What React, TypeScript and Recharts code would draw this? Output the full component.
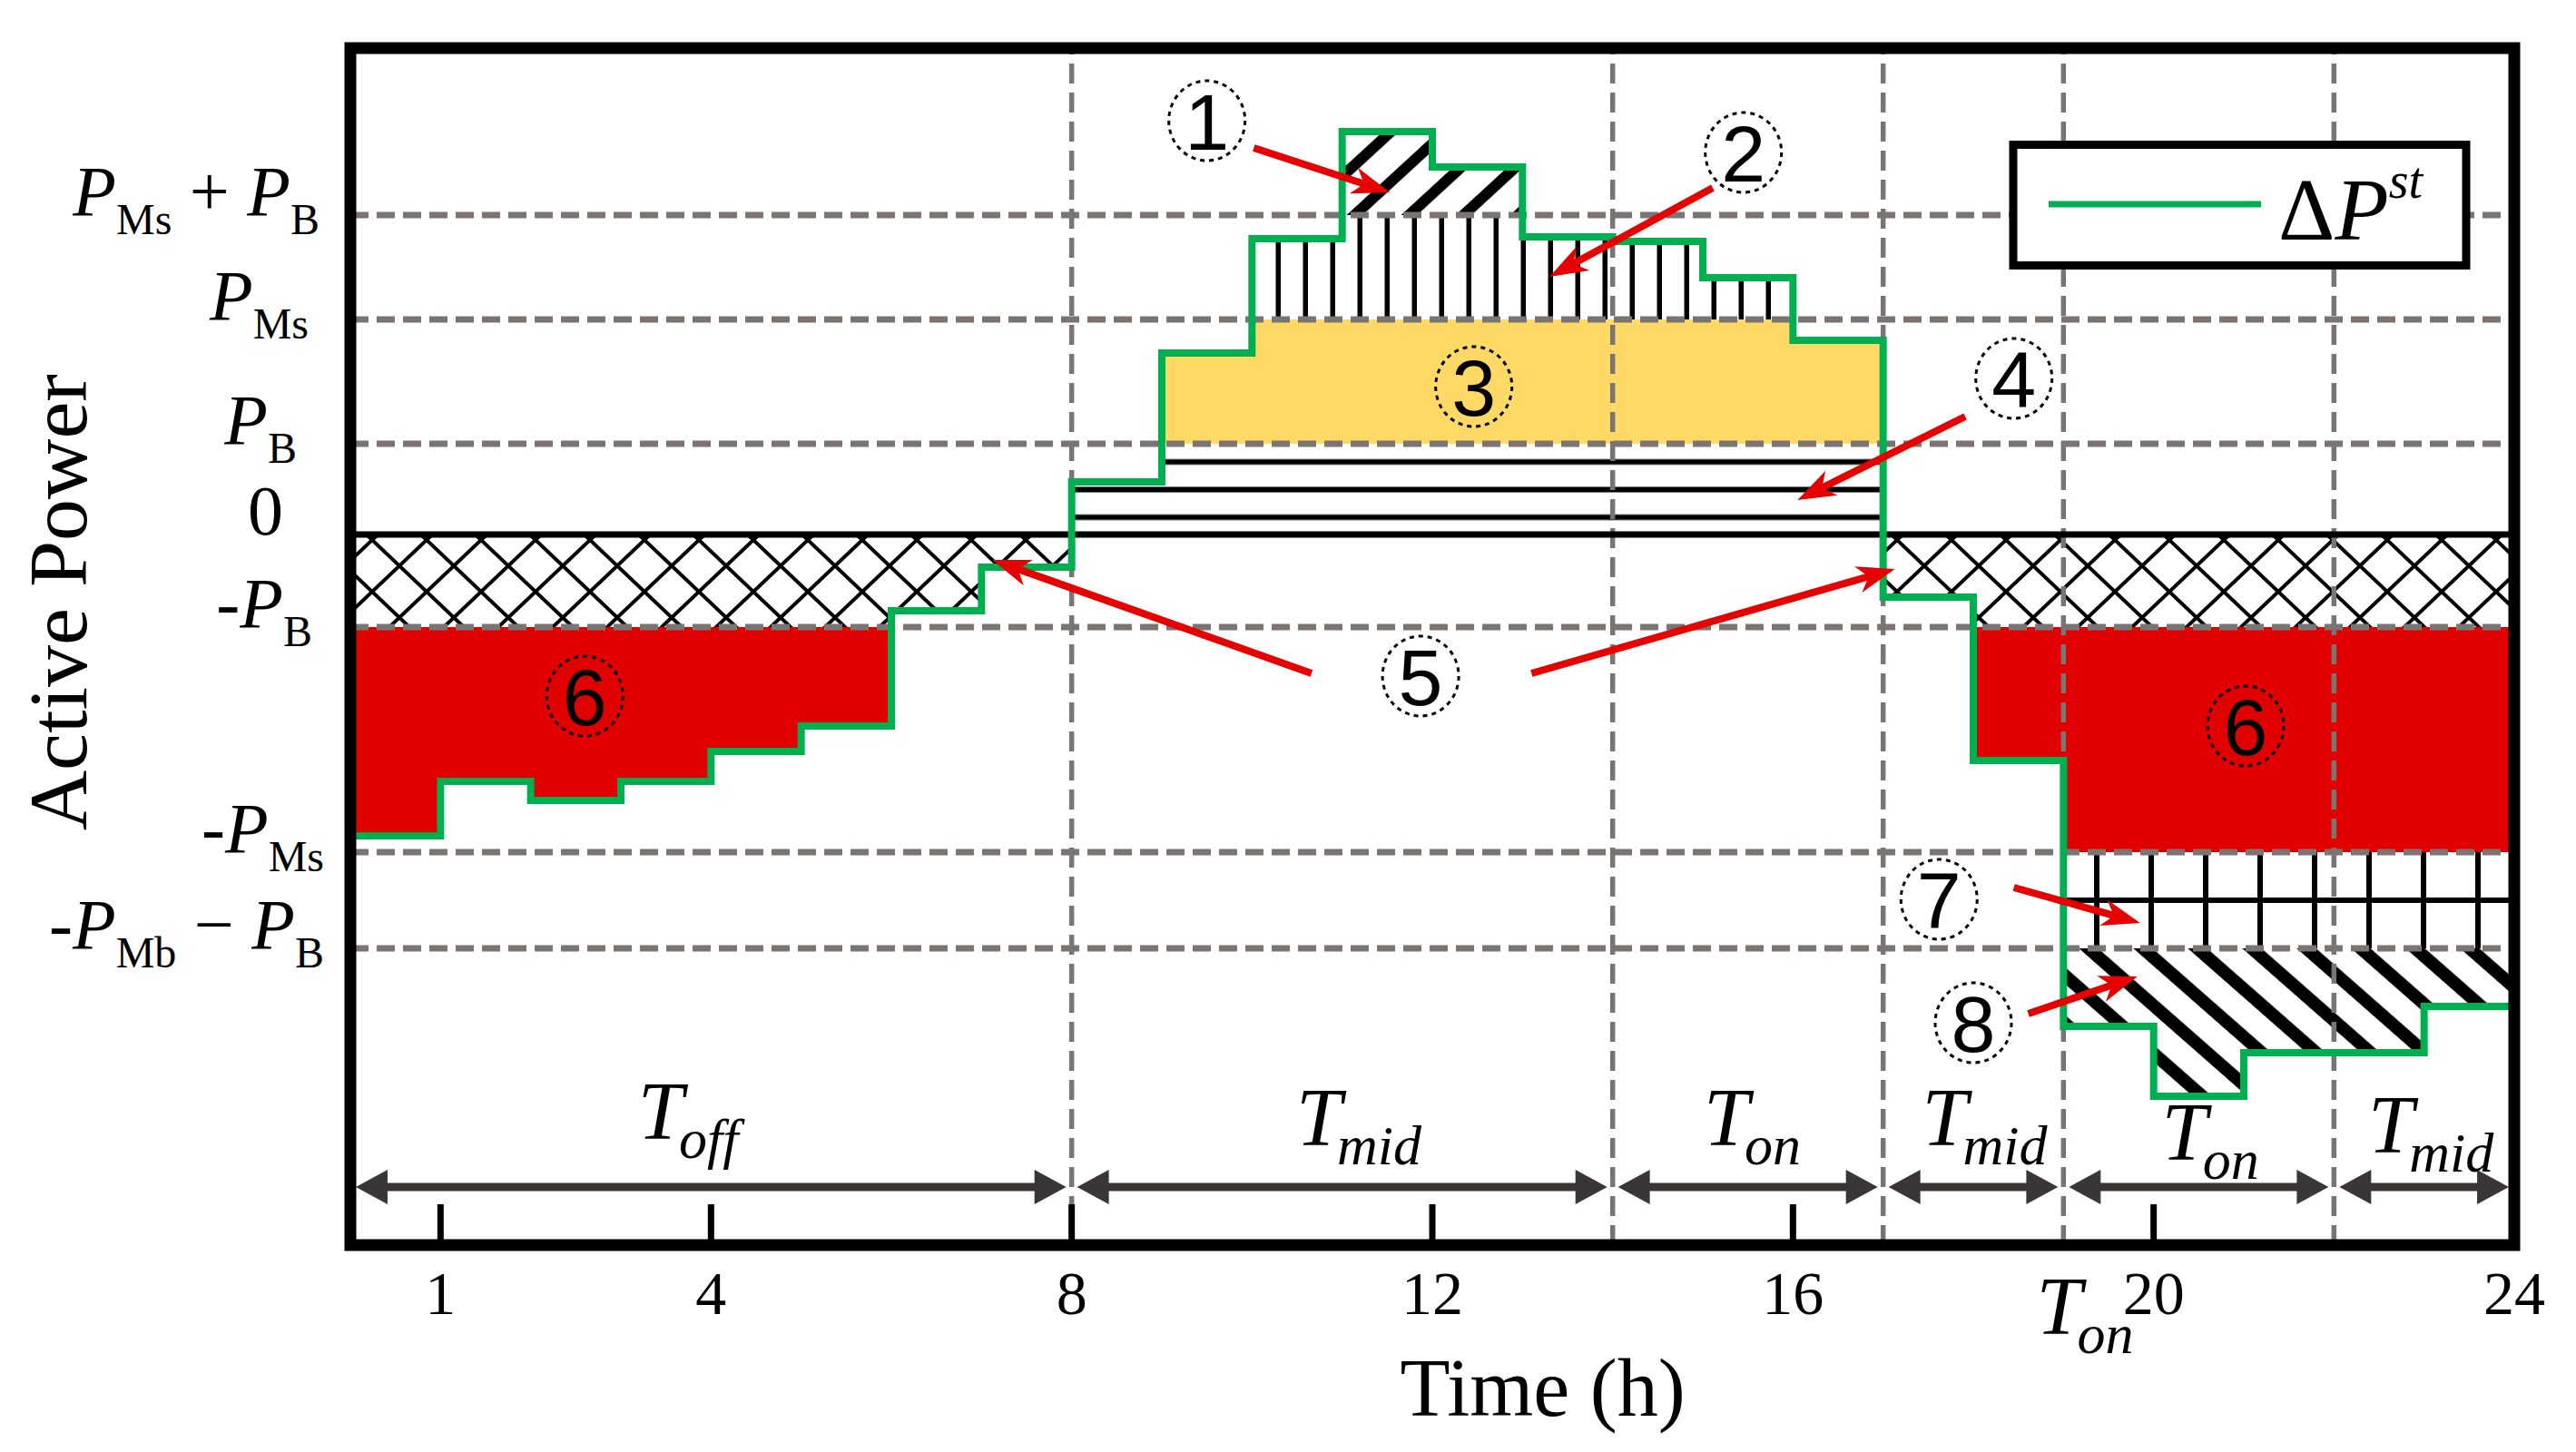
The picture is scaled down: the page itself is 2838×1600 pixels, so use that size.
import React from 'react'
import {
  ComposedChart, Area, Line, XAxis, YAxis, Label, Legend,
  ReferenceLine, ReferenceDot, ReferenceArea,
} from 'recharts'

// ΔP^st step curve: value of hour h holds on [h, h+1)
const hours = [0, 1, 2, 3, 4, 5, 6, 7, 8, 9, 10, 11, 12, 13, 14, 15, 16, 17, 18, 19, 20, 21, 22, 23, 24]
const deltaP = [-3.32, -2.72, -2.93, -2.72, -2.39, -2.11, -0.84, -0.36, 0.58, 2.0, 3.26, 4.44,
  4.05, 3.28, 3.23, 2.83, 2.14, -0.69, -2.49, -5.42, -6.19, -5.71, -5.71, -5.2]

const xTicks = [1, 4, 8, 12, 16, 20, 24]

// power levels shown on the y axis (top to bottom)
const yLevels = [3.52, 2.37, 1.0, 0, -1.02, -3.5, -4.56]
const yTickLabels = [
  [['P', 'it'], ['Ms', 'sub'], ['\u00a0+\u00a0', ''], ['P', 'it'], ['B', 'sub']],
  [['P', 'it'], ['Ms', 'sub']],
  [['P', 'it'], ['B', 'sub']],
  [['0', '']],
  [['-', ''], ['P', 'it'], ['B', 'sub']],
  [['-', ''], ['P', 'it'], ['Ms', 'sub']],
  [['-', ''], ['P', 'it'], ['Mb', 'sub'], ['\u00a0\u2212\u00a0', ''], ['P', 'it'], ['B', 'sub']],
]
const [P_MS_PB, P_MS, P_B, , N_P_B, N_P_MS, N_P_MB_PB] = yLevels

// tariff periods
const periodNames = ['off', 'mid', 'on', 'mid', 'on', 'mid']
const periodStart = [0, 8, 14, 17, 19, 22]
const periodEnd = [8, 14, 17, 19, 22, 24]

// annotation anchors (hour, power)
const periodLabelAt = [[3.19, -6.66], [10.49, -6.73], [15.01, -6.73], [17.43, -6.73], [20.09, -6.89], [22.38, -6.81]]
const extraLabelAt = [18.7, -8.81]
const markerText = ['1', '2', '3', '4', '5', '6', '6', '7', '8']
const markerAt = [[9.5, 4.56], [15.45, 4.21], [12.46, 1.63], [18.45, 1.72], [11.87, -1.56],
  [2.6, -1.78], [21.02, -2.11], [17.62, -4.02], [18.0, -5.38]]
const arrowFrom = [[10.02, 4.26], [15.11, 3.82], [17.91, 1.3], [10.66, -1.53], [13.1, -1.53], [18.45, -3.89], [18.61, -5.28]]
const arrowTo = [[11.53, 3.77], [13.3, 2.84], [16.05, 0.38], [7.12, -0.28], [17.13, -0.38], [19.85, -4.28], [19.82, -4.87]]

const Y_MIN = -7.83
const Y_MAX = 5.36
const ARROW_Y = -7.19

const GRID = '#7a7473'
const GREEN = '#00b050'
const RED_FILL = '#e00000'
const RED_ARROW = '#e60000'
const SERIF = '"Liberation Serif", "Times New Roman", serif'
const SANS = '"Liberation Sans", Arial, sans-serif'

const clamp = (v: number, lo: number, hi: number) => Math.min(Math.max(v, lo), hi)

const rows = hours.map((h, i) => {
  const g = deltaP[Math.min(i, deltaP.length - 1)]
  return {
    hour: h,
    g,
    lines4: [0, clamp(g, 0, P_B)],
    yellow3: [P_B, clamp(g, P_B, P_MS)],
    vert2: [P_MS, clamp(g, P_MS, P_MS_PB)],
    diag1: [P_MS_PB, Math.max(g, P_MS_PB)],
    cross5: [clamp(g, N_P_B, 0), 0],
    red6: [clamp(g, N_P_MS, N_P_B), N_P_B],
    grid7: [clamp(g, N_P_MB_PB, N_P_MS), N_P_MS],
    diag8: [Math.min(g, N_P_MB_PB), N_P_MB_PB],
  }
})

function YTick(props: any) {
  const { x, y, payload } = props
  const idx = yLevels.indexOf(payload.value)
  const parts = yTickLabels[idx] || []
  const shiftX = [0, -12, -25, -40, -8, 5, 5][idx] || 0
  const isZero = payload.value === 0
  let shift = 0
  return (
    <text x={x - 34 + shiftX} y={y} textAnchor={isZero ? 'end' : 'end'} fontFamily={SERIF} fill="#000">
      {parts.map(([t, kind], i) => {
        const target = kind === 'sub' ? 21 : 0
        const dy = target - shift
        shift = target
        return (
          <tspan key={i} dy={dy} fontStyle={kind === 'it' ? 'italic' : 'normal'} fontSize={kind === 'sub' ? 48 : 78}>
            {t}
          </tspan>
        )
      })}
    </text>
  )
}

function XTick(props: any) {
  const { x, y, payload } = props
  return (
    <g>
      <line x1={x} x2={x} y1={y} y2={y - 45} stroke="#000" strokeWidth={7} />
      <text x={x} y={y + 76} textAnchor="middle" fontSize={68} fontFamily={SERIF} fill="#000">
        {payload.value}
      </text>
    </g>
  )
}

function DoubleArrow(p: any) {
  const { x1, y1, x2, y2 } = p
  const L = 35
  const W = 19
  const c = '#3a3636'
  return (
    <g>
      <line x1={x1 + L - 2} y1={y1} x2={x2 - L + 2} y2={y2} stroke={c} strokeWidth={9} />
      <polygon points={`${x1},${y1} ${x1 + L},${y1 - W} ${x1 + L},${y1 + W}`} fill={c} />
      <polygon points={`${x2},${y2} ${x2 - L},${y2 - W} ${x2 - L},${y2 + W}`} fill={c} />
    </g>
  )
}

function RedArrow(p: any) {
  const { x1, y1, x2, y2 } = p
  const dx = x2 - x1
  const dy = y2 - y1
  const len = Math.hypot(dx, dy) || 1
  const ux = dx / len
  const uy = dy / len
  const nx = -uy
  const ny = ux
  const L = 42
  const W = 15
  const N = 30
  const bx = x2 - ux * L
  const by = y2 - uy * L
  const pts = [
    [x2, y2],
    [bx + nx * W, by + ny * W],
    [x2 - ux * N, y2 - uy * N],
    [bx - nx * W, by - ny * W],
  ].map((q) => q.join(',')).join(' ')
  return (
    <g>
      <line x1={x1} y1={y1} x2={x2 - ux * (N - 2)} y2={y2 - uy * (N - 2)} stroke={RED_ARROW} strokeWidth={8} />
      <polygon points={pts} fill={RED_ARROW} />
    </g>
  )
}

function circled(text: string) {
  return (p: any) => (
    <g>
      <ellipse cx={p.cx} cy={p.cy} rx={42} ry={44} fill="none" stroke="#000" strokeWidth={3} strokeDasharray="5 5" />
      <text x={p.cx} y={p.cy + 32} textAnchor="middle" fontSize={88} fontFamily={SANS} fill="#000">
        {text}
      </text>
    </g>
  )
}

function periodLabel(name: string) {
  return (p: any) => (
    <text x={p.cx} y={p.cy} fontFamily={SERIF} fill="#000">
      <tspan fontStyle="italic" fontSize={90}>T</tspan>
      <tspan fontStyle="italic" fontSize={62} dx={-5} dy={21}>{name}</tspan>
    </text>
  )
}

function LegendBox() {
  return (
    <svg width={509} height={142} style={{ display: 'block' }}>
      <rect x={5} y={4.5} width={499} height={133} fill="#fff" stroke="#000" strokeWidth={9} />
      <line x1={44} x2={278} y1={70} y2={70} stroke={GREEN} strokeWidth={7} />
      <text x={297} y={109} fontFamily={SERIF} fontSize={97} fill="#000">
        <tspan>Δ</tspan>
        <tspan fontStyle="italic">P</tspan>
        <tspan fontStyle="italic" fontSize={56} dy={-46}>st</tspan>
      </text>
    </svg>
  )
}

export default function App() {
  const boundaries = periodStart.slice(1)
  const gridLevels = yLevels.filter((v) => v !== 0)
  return (
    <div style={{ position: 'absolute', left: 0, top: 0, width: 2838, height: 1600, background: '#fff' }}>
      <ComposedChart width={2838} height={1600} data={rows} margin={{ top: 53, right: 68, bottom: 78, left: 56 }}>
        <defs>
          <pattern id="p4" patternUnits="userSpaceOnUse" x={0} y={554.75} width={60} height={30.5}>
            <rect x={0} y={12.25} width={60} height={6} fill="#000" />
          </pattern>
          <pattern id="p2" patternUnits="userSpaceOnUse" x={1453} y={0} width={30} height={60}>
            <rect x={12.5} y={0} width={5.5} height={60} fill="#000" />
          </pattern>
          <pattern id="p1" patternUnits="userSpaceOnUse" x={1494} y={230} width={40.6} height={60}
            patternTransform="rotate(47.4 1500 230)">
            <rect x={0} y={0} width={12} height={60} fill="#000" />
          </pattern>
          <pattern id="p5" patternUnits="userSpaceOnUse" x={410} y={595} width={60} height={57}>
            <line x1={0} y1={0} x2={60} y2={57} stroke="#000" strokeWidth={4} />
            <line x1={60} y1={0} x2={0} y2={57} stroke="#000" strokeWidth={4} />
          </pattern>
          <pattern id="p7" patternUnits="userSpaceOnUse" x={2280} y={939} width={60} height={106}>
            <rect x={27} y={0} width={6} height={106} fill="#000" />
            <rect x={0} y={50} width={60} height={6} fill="#000" />
          </pattern>
          <pattern id="p8" patternUnits="userSpaceOnUse" x={2303} y={1053} width={39.6} height={60}
            patternTransform="rotate(-48.7 2310 1053)">
            <rect x={0} y={0} width={14} height={60} fill="#000" />
          </pattern>
        </defs>

        <XAxis dataKey="hour" type="number" domain={[0, 24]} ticks={xTicks} interval={0}
          axisLine={false} tickLine={false} tickSize={0} tickMargin={0} height={150}
          tick={(p: any) => <XTick {...p} />}>
          <Label content={(p: any) => {
            const vb = p.viewBox
            return (
              <text x={vb.x + vb.width * 0.551} y={vb.y + 188} textAnchor="middle" fontFamily={SERIF} fontSize={90} fill="#000">
                Time (h)
              </text>
            )
          }} />
        </XAxis>
        <YAxis type="number" domain={[Y_MIN, Y_MAX]} ticks={yLevels} interval={0} width={330}
          axisLine={false} tickLine={false} tickSize={0} tickMargin={0}
          tick={(p: any) => <YTick {...p} />}>
          <Label content={(p: any) => {
            const vb = p.viewBox
            const x = vb.x + 39
            const y = vb.y + vb.height * 0.463
            return (
              <text x={x} y={y} transform={`rotate(-90 ${x} ${y})`} textAnchor="middle" fontFamily={SERIF} fontSize={92} fill="#000">
                Active Power
              </text>
            )
          }} />
        </YAxis>

        <Area type="stepAfter" dataKey="lines4" fill="url(#p4)" fillOpacity={1} stroke="none" isAnimationActive={false} legendType="none" activeDot={false} />
        <Area type="stepAfter" dataKey="yellow3" fill="#ffd966" fillOpacity={1} stroke="none" isAnimationActive={false} legendType="none" activeDot={false} />
        <Area type="stepAfter" dataKey="vert2" fill="url(#p2)" fillOpacity={1} stroke="none" isAnimationActive={false} legendType="none" activeDot={false} />
        <Area type="stepAfter" dataKey="diag1" fill="url(#p1)" fillOpacity={1} stroke="none" isAnimationActive={false} legendType="none" activeDot={false} />
        <Area type="stepAfter" dataKey="cross5" fill="url(#p5)" fillOpacity={1} stroke="none" isAnimationActive={false} legendType="none" activeDot={false} />
        <Area type="stepAfter" dataKey="red6" fill={RED_FILL} fillOpacity={1} stroke="none" isAnimationActive={false} legendType="none" activeDot={false} />
        <Area type="stepAfter" dataKey="grid7" fill="url(#p7)" fillOpacity={1} stroke="none" isAnimationActive={false} legendType="none" activeDot={false} />
        <Area type="stepAfter" dataKey="diag8" fill="url(#p8)" fillOpacity={1} stroke="none" isAnimationActive={false} legendType="none" activeDot={false} />

        {gridLevels.map((v) => (
          <ReferenceLine key={`h${v}`} y={v} stroke={GRID} strokeWidth={7} strokeDasharray="20 9" zIndex={150} />
        ))}
        {boundaries.map((b) => (
          <ReferenceLine key={`v${b}`} x={b} stroke={GRID} strokeWidth={5.5} strokeDasharray="22 10" zIndex={150} />
        ))}
        <ReferenceLine y={0} stroke="#000" strokeWidth={7} zIndex={160} />

        <Line type="stepAfter" dataKey="g" name="ΔP^st" stroke={GREEN} strokeWidth={8} dot={false}
          activeDot={false} isAnimationActive={false} zIndex={400} />

        {periodStart.map((s, i) => (
          <ReferenceLine key={`pa${i}`} segment={[{ x: s + 0.06, y: ARROW_Y }, { x: periodEnd[i] - 0.06, y: ARROW_Y }]}
            shape={(p: any) => <DoubleArrow {...p} />} zIndex={450} />
        ))}
        {periodNames.map((n, i) => (
          <ReferenceDot key={`pl${i}`} x={periodLabelAt[i][0]} y={periodLabelAt[i][1]} r={1}
            shape={periodLabel(n)} zIndex={450} />
        ))}
        <ReferenceDot x={extraLabelAt[0]} y={extraLabelAt[1]} r={1} ifOverflow="visible"
          shape={periodLabel('on')} zIndex={450} />

        {arrowFrom.map((f, i) => (
          <ReferenceLine key={`ra${i}`} segment={[{ x: f[0], y: f[1] }, { x: arrowTo[i][0], y: arrowTo[i][1] }]}
            shape={(p: any) => <RedArrow {...p} />} zIndex={460} />
        ))}
        {markerText.map((t, i) => (
          <ReferenceDot key={`m${i}`} x={markerAt[i][0]} y={markerAt[i][1]} r={1}
            shape={circled(t)} zIndex={470} />
        ))}

        <ReferenceArea x1={0} x2={24} y1={Y_MIN} y2={Y_MAX} fill="none" fillOpacity={0}
          stroke="#000" strokeWidth={13} ifOverflow="visible" zIndex={480} />

        <Legend layout="vertical" align="center" verticalAlign="middle"
          wrapperStyle={{ left: 2213, top: 155, width: 509, height: 142 }}
          content={() => <LegendBox />} />
      </ComposedChart>
    </div>
  )
}
